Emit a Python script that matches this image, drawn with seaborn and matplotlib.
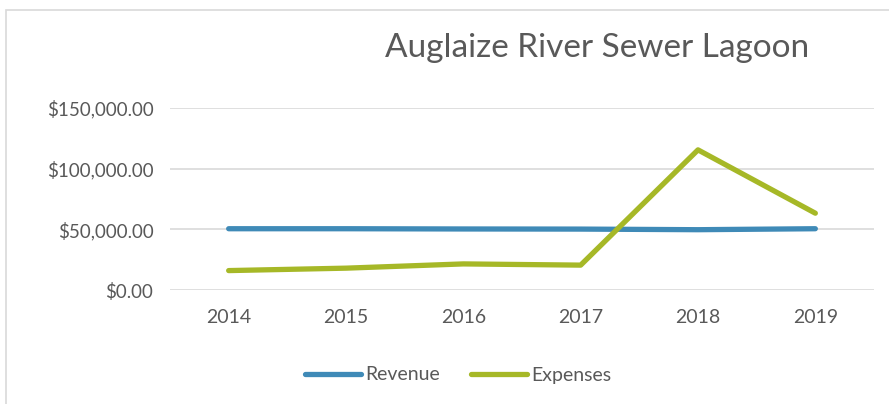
import numpy as np
import pandas as pd
import seaborn as sns
import matplotlib.pyplot as plt
from matplotlib.patches import Rectangle
from matplotlib.ticker import FuncFormatter

# data
years = ["2014", "2015", "2016", "2017", "2018", "2019"]
revenue = [50500, 50500, 50300, 50200, 49700, 50500]
expenses = [16000, 18000, 21500, 20500, 115500, 63300]

df = pd.DataFrame({
    "year": years * 2,
    "value": revenue + expenses,
    "series": ["Revenue"] * len(years) + ["Expenses"] * len(years),
})

sns.set_theme(style="white")
plt.rcParams["font.family"] = ["Lato", "DejaVu Sans"]
grey = "#595959"

fig = plt.figure(figsize=(8.89, 4.04), dpi=100)
ax = fig.add_axes([170 / 889, (404 - 290) / 404, (874 - 170) / 889, 182 / 404])

palette = {"Revenue": "#3f8ab7", "Expenses": "#a6b827"}
sns.lineplot(data=df, x="year", y="value", hue="series", palette=palette,
             linewidth=3.8, sort=False, ax=ax, solid_capstyle="round", zorder=3)

for l in ax.lines:
    l.set_clip_on(False)

ax.set_xlim(-0.5, len(years) - 0.5)
ax.set_ylim(0, 150000)
ax.set_yticks([0, 50000, 100000, 150000])
ax.yaxis.set_major_formatter(FuncFormatter(lambda v, p: "${:,.2f}".format(v)))
ax.grid(axis="y", color="#d9d9d9", linewidth=1.2)
ax.set_axisbelow(True)
for s in ax.spines.values():
    s.set_visible(False)
ax.tick_params(axis="both", length=0, labelsize=13.5, labelcolor=grey)
ax.tick_params(axis="x", pad=14, labelsize=14)
ax.tick_params(axis="y", pad=12)
ax.set_xlabel("")
ax.set_ylabel("")

handles, labels = ax.get_legend_handles_labels()
ax.legend(handles, labels, ncol=2, frameon=False, loc="center",
          bbox_to_anchor=(458 / 889, 1 - 375 / 404), bbox_transform=fig.transFigure,
          fontsize=14, labelcolor=grey, handlelength=2.9, handletextpad=0.2,
          columnspacing=1.6)

fig.text(597 / 889, 1 - 48 / 404, "Auglaize River Sewer Lagoon", ha="center", va="center",
         fontsize=24, color=grey)

# chart frame
fig.patches.append(Rectangle((6 / 889, -0.1), 1.2, 1 - 10 / 404 + 0.1, transform=fig.transFigure,
                             fill=False, edgecolor="#d9d9d9", linewidth=1.2))

fig.savefig("out.png", dpi=100, facecolor="white")
